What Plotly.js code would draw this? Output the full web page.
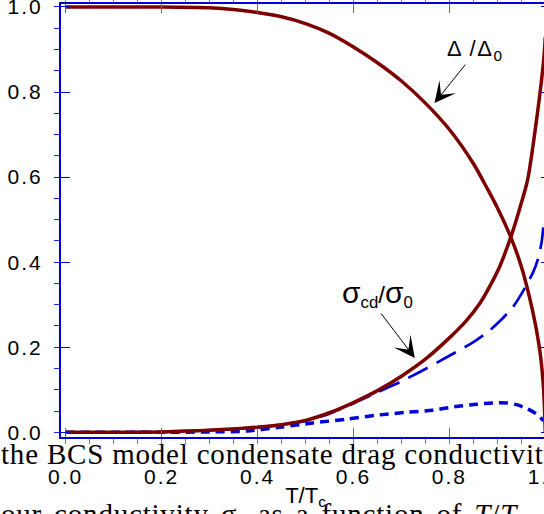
<!DOCTYPE html>
<html>
<head>
<meta charset="utf-8">
<script src="https://cdn.plot.ly/plotly-3.0.1.min.js"></script>
<style>
html, body { margin: 0; padding: 0; overflow: hidden; background: #fff; }
#chart { width: 556px; height: 514px; }
.xtick text, .ytick text { letter-spacing: 2px; }
</style>
</head>
<body>
<div id="chart"></div>
<script>
// Gap ratio Delta/Delta0 vs T/Tc
const T_gap = [0, 0.1, 0.2, 0.3, 0.35, 0.4, 0.45, 0.5, 0.55, 0.6, 0.65, 0.7, 0.75, 0.8, 0.85, 0.88, 0.9, 0.928, 0.95, 0.967, 0.98, 0.99, 0.9965, 1.0];
const gap   = [1.0, 1.0, 1.0, 0.998, 0.994, 0.987, 0.977, 0.961, 0.938, 0.906, 0.869, 0.826, 0.774, 0.712, 0.632, 0.571, 0.528, 0.459, 0.39, 0.318, 0.25, 0.18, 0.1, 0.0];

// Condensate drag conductivity sigma_cd/sigma_0 (solid)
const T_cd = [0, 0.1, 0.2, 0.25, 0.3, 0.35, 0.4, 0.45, 0.5, 0.55, 0.6, 0.65, 0.7, 0.75, 0.8, 0.835, 0.864, 0.885, 0.905, 0.928, 0.945, 0.963, 0.98, 0.9965, 1.0];
const sigma_cd = [0, 0, 0.001, 0.003, 0.005, 0.008, 0.012, 0.018, 0.028, 0.046, 0.07, 0.098, 0.132, 0.172, 0.222, 0.262, 0.304, 0.345, 0.39, 0.459, 0.52, 0.593, 0.72, 0.874, 0.93];

// Long-dashed curve
const T_long = [0, 0.2, 0.3, 0.35, 0.4, 0.45, 0.5, 0.55, 0.6, 0.65, 0.7, 0.75, 0.8, 0.85, 0.88, 0.905, 0.932, 0.95, 0.974, 0.984, 0.992, 0.9965];
const sigma_long = [0, 0.001, 0.005, 0.008, 0.012, 0.018, 0.027, 0.044, 0.068, 0.094, 0.12, 0.149, 0.18, 0.212, 0.236, 0.261, 0.294, 0.325, 0.375, 0.405, 0.445, 0.49];

// Short-dashed curve
const T_short = [0, 0.2, 0.3, 0.378, 0.446, 0.515, 0.586, 0.655, 0.71, 0.765, 0.81, 0.857, 0.89, 0.919, 0.94, 0.961, 0.975, 0.985, 0.9965];
const sigma_short = [0, 0, 0.001, 0.003, 0.012, 0.022, 0.031, 0.041, 0.047, 0.052, 0.06, 0.066, 0.069, 0.069, 0.065, 0.056, 0.048, 0.04, 0.027];

const xTickVals = [0, 0.2, 0.4, 0.6, 0.8, 1.0];
const yTickVals = [0, 0.2, 0.4, 0.6, 0.8, 1.0];

const RED = '#7d0000';
const BLUE = '#0000d8';
const AXIS = '#0000d0';

const traces = [
  { x: T_short, y: sigma_short, mode: 'lines', line: { color: BLUE, width: 3.5, dash: '9px,6px', shape: 'spline', smoothing: 0.8 } },
  { x: T_long, y: sigma_long, mode: 'lines', line: { color: BLUE, width: 2.7, dash: '22px,10px', shape: 'spline', smoothing: 0.8 } },
  { x: T_cd, y: sigma_cd, mode: 'lines', line: { color: RED, width: 3.5, shape: 'spline', smoothing: 0.8 } },
  { x: T_gap, y: gap, mode: 'lines', line: { color: RED, width: 3.5, shape: 'spline', smoothing: 0.8 } }
];

const layout = {
  width: 556, height: 514,
  margin: { l: 61, r: 6, t: 4, b: 77 },
  paper_bgcolor: '#fff', plot_bgcolor: '#fff',
  showlegend: false,
  font: { family: 'Liberation Sans, Arial, sans-serif', size: 21, color: '#000' },
  xaxis: {
    range: [-0.0098, 1.0098],
    showline: true, linecolor: AXIS, linewidth: 2, mirror: 'ticks',
    ticks: 'inside', ticklen: 9, tickwidth: 1, tickcolor: '#5c5cf0',
    tickmode: 'array', tickvals: xTickVals, tickformat: '.1f',
    ticklabeloverflow: 'allow',
    minor: { dtick: 0.05, tick0: 0, ticklen: 5, tickwidth: 1, tickcolor: '#7070f0', showgrid: false },
    showgrid: false, zeroline: false,
    ticklabelstandoff: 20,
    title: { text: 'T/T<sub>c</sub>', font: { size: 22 }, standoff: 0 }
  },
  yaxis: {
    range: [-0.011, 1.007],
    showline: true, linecolor: AXIS, linewidth: 2, mirror: 'ticks',
    ticks: 'inside', ticklen: 9, tickwidth: 1, tickcolor: '#0000d8',
    tickmode: 'array', tickvals: yTickVals, tickformat: '.1f',
    ticklabeloverflow: 'allow',
    minor: { dtick: 0.05, tick0: 0, ticklen: 5, tickwidth: 1, tickcolor: '#2020e0', showgrid: false },
    showgrid: false, zeroline: false,
    ticklabelstandoff: 12
  },
  annotations: [
    { x: 0.79, y: 0.9, xref: 'x', yref: 'y', xanchor: 'left', yanchor: 'middle',
      text: '<span style="letter-spacing:1.5px">Δ /Δ</span><sub>0</sub>', showarrow: false, font: { size: 22 } },
    { x: 0.769, y: 0.774, xref: 'x', yref: 'y', ax: 32, ay: -40, text: '',
      showarrow: true, arrowhead: 3, arrowsize: 3.5, arrowwidth: 1, arrowcolor: '#000' },
    { x: 0.572, y: 0.326, xref: 'x', yref: 'y', xanchor: 'left', yanchor: 'middle',
      text: '<span style="font-size:30px">σ</span><sub>cd</sub>/<span style="font-size:30px">σ</span><sub>0</sub>',
      showarrow: false, font: { size: 24 } },
    { x: 0.728, y: 0.175, xref: 'x', yref: 'y', ax: -35, ay: -46, text: '',
      showarrow: true, arrowhead: 3, arrowsize: 3.5, arrowwidth: 1, arrowcolor: '#000' },
    { x: -0.127, y: -0.039, xref: 'paper', yref: 'paper', xanchor: 'left', yanchor: 'middle',
      text: '<span style="letter-spacing:0.8px">the BCS model condensate drag conductivity</span>', showarrow: false,
      font: { family: 'Liberation Serif, Times New Roman, serif', size: 29, color: '#000' } },
    { x: -0.127, y: -0.182, xref: 'paper', yref: 'paper', xanchor: 'left', yanchor: 'middle',
      text: '<span style="letter-spacing:0.8px;word-spacing:4px">our conductivity σ<sub>s</sub> as a function of <i>T</i>/<i>T</i><sub>c</sub></span>', showarrow: false,
      font: { family: 'Liberation Serif, Times New Roman, serif', size: 29, color: '#000' } }
  ]
};

Plotly.newPlot('chart', traces, layout, { displayModeBar: false, staticPlot: true });
</script>
</body>
</html>
